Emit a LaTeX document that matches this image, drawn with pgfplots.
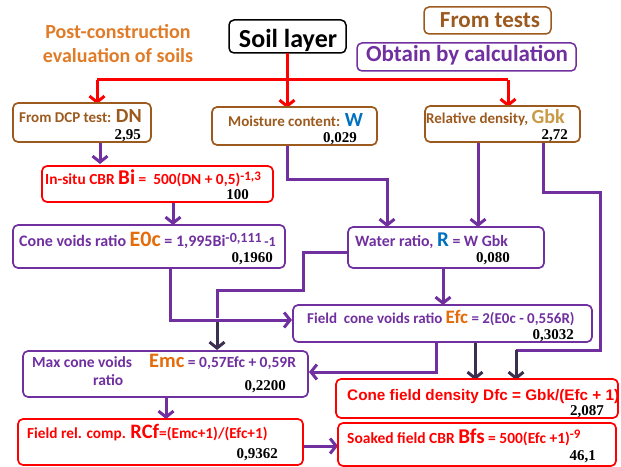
\documentclass[border=0pt]{standalone}
\usepackage{fontspec}
\setmainfont{Carlito}
\newfontfamily\arialf{Liberation Sans}
\newfontfamily\timesf{Liberation Serif}
\usepackage{pgfplots}
\pgfplotsset{compat=1.18}
\usetikzlibrary{arrows.meta}
\definecolor{brn}{HTML}{9C5A1E}
\definecolor{org}{HTML}{E07B28}
\definecolor{pur}{HTML}{7030A0}
\definecolor{rd}{HTML}{FF0000}
\definecolor{blu}{HTML}{0070C0}
\definecolor{gld}{HTML}{C99A45}
\definecolor{eorg}{HTML}{E46C0A}
\definecolor{dk}{HTML}{3C2F50}
\newcommand{\fs}[1]{\fontsize{#1bp}{#1bp}\selectfont}
\newcommand{\sups}[2]{\raisebox{0.55ex}{\fs{#1}#2}}
\newcommand{\num}[1]{{\timesf\bfseries\fs{15}\color{black}#1}}
\tikzset{
  bx/.style={rounded corners=5bp, line width=1.7bp},
  tx/.style={anchor=base west, inner sep=0pt},
  nr/.style={anchor=base east, inner sep=0pt},
  arr/.style={-{Straight Barb[length=6bp,width=15bp]}},
}
\begin{document}
\begin{tikzpicture}
\begin{axis}[x=1bp,y=1bp,y dir=reverse,xmin=0,xmax=621,ymin=0,ymax=466,hide axis,clip=false]
\path (0,0) rectangle (621,466);
% ---------- header ----------
\node[anchor=base, inner sep=0pt, text=org, font=\bfseries\fs{20}] at (118,39) {Post-construction};
\node[anchor=base, inner sep=0pt, text=org, font=\bfseries\fs{20}] at (118,63) {evaluation of soils};
\draw[bx, black, line width=1.5bp] (229,20) rectangle (346,53);
\node[anchor=base, inner sep=0pt, font=\bfseries\fs{26}] at (288,48) {Soil layer};
\draw[bx, brn, line width=1.5bp] (424,7) rectangle (551,34);
\node[anchor=base, inner sep=0pt, text=brn, font=\bfseries\fs{23}] at (490,28) {From tests};
\draw[bx, pur, line width=1.5bp] (357,43) rectangle (576,71);
\node[anchor=base, inner sep=0pt, text=pur, font=\bfseries\fs{23}] at (467,62) {Obtain by calculation};
% ---------- red connectors ----------
\addplot[rd, line width=3bp, forget plot] coordinates {(97,80) (508,80)};
\addplot[rd, line width=3bp, arr, forget plot] coordinates {(97,80) (97,104)};
\addplot[rd, line width=3bp, arr, forget plot] coordinates {(508,80) (508,107)};
\addplot[rd, line width=3bp, arr, forget plot] coordinates {(287,53) (287,108)};
% ---------- purple connectors ----------
\addplot[pur, line width=3bp, arr, forget plot] coordinates {(100,142) (100,164)};
\addplot[pur, line width=3bp, arr, forget plot] coordinates {(173,202) (173,225)};
\addplot[pur, line width=3bp, arr, forget plot] coordinates {(287,145) (287,180) (387,180) (387,227)};
\addplot[pur, line width=3bp, arr, forget plot] coordinates {(478,142) (478,227)};
\addplot[pur, line width=3bp, forget plot] coordinates {(543,143) (543,193) (600,193) (600,350) (516,350)};
\addplot[dk, line width=3bp, arr, forget plot] coordinates {(516,350) (516,380)};
\addplot[pur, line width=3bp, arr, forget plot] coordinates {(443,268) (443,305)};
\addplot[pur, line width=3bp, forget plot] coordinates {(348,253) (303,253) (303,290) (217,290) (217,318)};
\addplot[dk, line width=3bp, arr, forget plot] coordinates {(217,322) (217,350)};
\addplot[pur, line width=3bp, arr, forget plot] coordinates {(170,268) (170,320) (292,320)};
\addplot[pur, line width=3bp, arr, forget plot] coordinates {(436,342) (436,372) (309,372)};
\addplot[dk, line width=3bp, arr, forget plot] coordinates {(475,342) (475,380)};
\addplot[pur, line width=3bp, arr, forget plot] coordinates {(166,397) (166,419)};
\addplot[pur, line width=3bp, arr, forget plot] coordinates {(303,446) (338,446)};
% ---------- boxes ----------
\draw[bx, brn, fill=white] (13,103) rectangle (151,142);
\node[tx, text=brn, font=\bfseries\fs{15}] at (19,123) {From DCP test: {\fs{20}DN}};
\node[nr] at (141,140) {\num{2,95}};
\draw[bx, brn, fill=white] (212,107) rectangle (377,145);
\node[tx, text=brn, font=\bfseries\fs{15}] at (228,127) {Moisture content: {\fs{20}\color{blu}W}};
\node[nr] at (357,143) {\num{0,029}};
\draw[bx, brn, fill=white] (425,106) rectangle (580,142);
\node[tx, text=brn, font=\bfseries\fs{15}] at (426,124) {Relative density, {\fs{20}\color{gld}Gbk}};
\node[nr] at (568,139.5) {\num{2,72}};
\draw[bx, rd, fill=white] (42,166) rectangle (273,202);
\node[tx, text=rd, font=\bfseries\fs{15.4}] at (45,185) {In-situ CBR {\fs{21}Bi} =\ \ 500(DN + 0,5)\sups{13}{-1,3}};
\node[nr] at (249,200) {\num{100}};
\draw[bx, pur, fill=white] (13,225) rectangle (285,268);
\node[tx, text=pur, font=\bfseries\fs{16}] at (19,247) {Cone voids ratio {\fs{22}\color{eorg}E0c} = 1,995Bi\sups{14}{-0,111}\,{\fs{14}-1}};
\node[nr] at (273,263) {\num{0,1960}};
\draw[bx, pur, fill=white] (348,227) rectangle (544,268);
\node[tx, text=pur, font=\bfseries\fs{15.8}] at (355,247) {Water ratio, {\fs{21}\color{blu}R} = W Gbk};
\node[nr] at (510,263) {\num{0,080}};
\draw[bx, pur, fill=white] (293,305) rectangle (592,342);
\node[tx, text=pur, font=\bfseries\fs{15}] at (307,323) {Field\ \ cone voids ratio {\fs{19}\color{eorg}Efc} = 2(E0c - 0,556R)};
\node[nr] at (574,339) {\num{0,3032}};
\draw[bx, pur, fill=white] (23,351) rectangle (308,397);
\node[tx, text=pur, font=\bfseries\fs{15.5}] at (32,367) {Max cone voids};
\node[tx, text=pur, font=\bfseries\fs{15.5}] at (93,385) {ratio};
\node[tx, text=pur, font=\bfseries\fs{15.5}] at (149,367) {{\fs{20.5}\color{eorg}Emc} = 0,57Efc + 0,59R};
\node[nr] at (286,390) {\num{0,2200}};
\draw[bx, rd, fill=white] (18,419) rectangle (303,465);
\node[tx, text=rd, font=\bfseries\fs{15.3}] at (27,438) {Field rel. comp. {\fs{20.5}RCf}=(Emc+1)/(Efc+1)};
\node[nr] at (278,458) {\num{0,9362}};
\draw[bx, rd, fill=white] (336,379) rectangle (618,418);
\node[tx, text=rd, font=\arialf\bfseries\fs{15.3}] at (347,400) {Cone field density Dfc = Gbk/(Efc + 1)};
\node[nr] at (604,415) {\num{2,087}};
\draw[bx, rd, fill=white] (338,423) rectangle (616,466);
\node[tx, text=rd, font=\bfseries\fs{15.5}] at (347,443) {Soaked field CBR {\fs{21}Bfs} = 500(Efc +1)\sups{13}{-9}};
\node[nr] at (596,460) {\num{46,1}};
\end{axis}
\end{tikzpicture}
\end{document}
